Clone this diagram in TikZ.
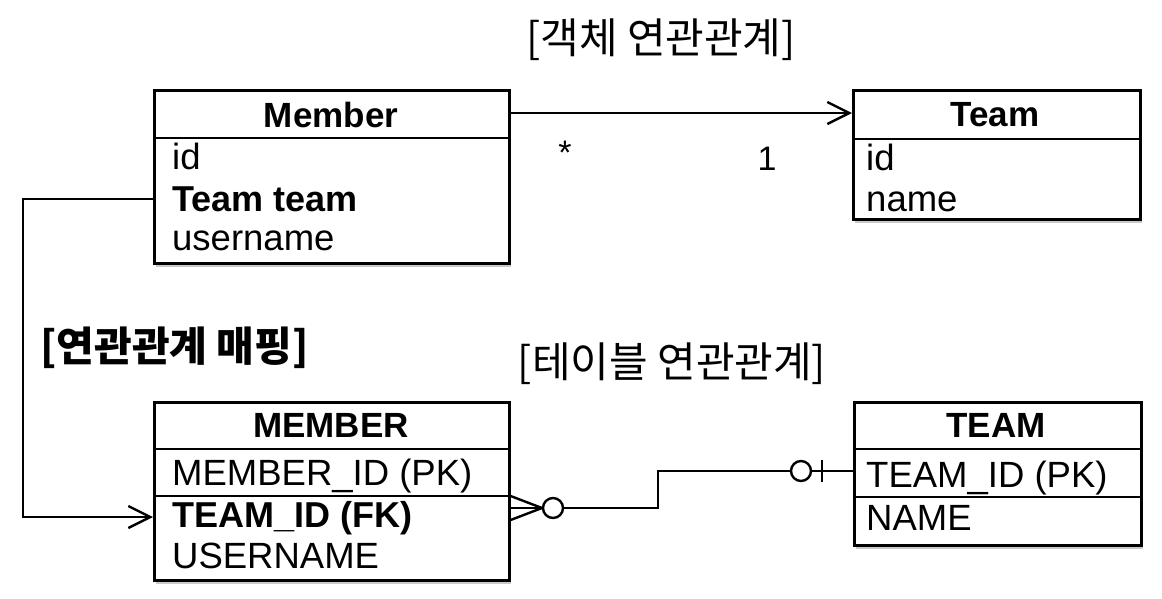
\documentclass[tikz,border=0pt]{standalone}
\usepackage{fontspec}
\setmainfont{Liberation Sans}
\newfontfamily\kr{Noto Sans CJK KR}
\usetikzlibrary{arrows.meta,shadows,calc}
\begin{document}
\begin{tikzpicture}[x=1pt,y=-1pt,
  box/.style={draw, line width=2.6pt, fill=white, inner sep=0pt, anchor=north west,
    drop shadow={shadow xshift=2pt, shadow yshift=-4pt, opacity=0.3, fill=black!70}},
  divider/.style={line width=2.6pt},
  conn/.style={line width=2.4pt},
  hdr/.style={anchor=base, inner sep=0pt, font=\fontsize{35}{40}\selectfont\bfseries},
  attr/.style={anchor=base west, inner sep=0pt, font=\fontsize{36.5}{40}\selectfont},
  battr/.style={attr, font=\fontsize{36}{40}\selectfont\bfseries},
  title/.style={anchor=base, inner sep=0pt, font=\kr\fontsize{42}{46}\selectfont},
  mult/.style={anchor=base, inner sep=0pt, font=\fontsize{34}{38}\selectfont},
  tip/.style={-{Straight Barb[length=22pt,width=22pt,line width=2.4pt]}},
  ring/.style={circle, draw, line width=2.4pt, minimum size=20pt, inner sep=0pt, fill=white}
]
\useasboundingbox (0,0) rectangle (1162,598);

% titles
\node[title] (t1) at (661,53) {[객체 연관관계]};
\node[title] (t2) at (672,377) {[테이블 연관관계]};
\node[title, anchor=base west, font=\kr\fontsize{41}{46}\selectfont\bfseries] (t3) at (40,361) {[연관관계 매핑]};

% object boxes
\node[box, minimum width=355pt, minimum height=173pt] (member) at (153,89) {};
\draw[divider] ([yshift=-49pt]member.north west) -- ([yshift=-49pt]member.north east);
\node[hdr] (memberH) at (331,127) {Member};
\node[attr] (mid) at (172,169) {id};
\node[battr] (mteam) at (172,211) {Team team};
\node[attr] (muser) at (172,250) {username};

\node[box, minimum width=287pt, minimum height=129pt] (team) at (852,89) {};
\draw[divider] ([yshift=-50pt]team.north west) -- ([yshift=-50pt]team.north east);
\node[hdr] (teamH) at (995,126) {Team};
\node[attr] (tid) at (866,170) {id};
\node[attr] (tname) at (866,211) {name};

% table boxes
\node[box, minimum width=355pt, minimum height=178pt] (MEMBER) at (153,401) {};
\draw[divider] ([yshift=-48pt]MEMBER.north west) -- ([yshift=-48pt]MEMBER.north east);
\draw[divider] ([yshift=-95pt]MEMBER.north west) -- ([yshift=-95pt]MEMBER.north east);
\node[hdr] (MEMBERH) at (331,437) {MEMBER};
\node[attr] (Mid) at (172,485) {MEMBER\_ID (PK)};
\node[battr] (Mteam) at (172,527) {TEAM\_ID (FK)};
\node[attr] (Muser) at (172,568) {USERNAME};

\node[box, minimum width=287pt, minimum height=143pt] (TEAM) at (853,401) {};
\draw[divider] ([yshift=-48pt]TEAM.north west) -- ([yshift=-48pt]TEAM.north east);
\draw[divider] ([yshift=-96pt]TEAM.north west) -- ([yshift=-96pt]TEAM.north east);
\node[hdr] (TEAMH) at (996,437) {TEAM};
\node[attr] (Tid) at (866,487) {TEAM\_ID (PK)};
\node[attr] (Tname) at (866,530) {NAME};

% object association
\draw[conn, tip] ([yshift=-24pt]member.north east) -- ([yshift=-24pt]team.north west);
\node[mult] (many) at (565,164) {*};
\node[mult] (one) at (767,170) {1};

% mapping connector
\coordinate (lk1) at (23,199);
\coordinate (lk2) at (23,517);
\draw[conn, tip] ([yshift=-110pt]member.north west) -- (lk1) -- (lk2) -- ([yshift=-116pt]MEMBER.north west);

% ER relation
\coordinate (cf) at (542,508);
\draw[conn] ([yshift=-95pt]MEMBER.north east) -- (cf);
\draw[conn] ([yshift=-107pt]MEMBER.north east) -- (cf);
\draw[conn] ([yshift=-119pt]MEMBER.north east) -- (cf);
\node[ring] (r1) at (553,508) {};
\coordinate (bend1) at (658,508);
\coordinate (bend2) at (658,471);
\node[ring] (r2) at (801,471) {};
\draw[conn] (r1.east) -- (bend1) -- (bend2) -- (r2.west);
\draw[conn] (r2.east) -- ([yshift=-70pt]TEAM.north west);
\coordinate (barT) at (822,460);
\coordinate (barB) at (822,482);
\draw[conn] (barT) -- (barB);
\end{tikzpicture}
\end{document}
